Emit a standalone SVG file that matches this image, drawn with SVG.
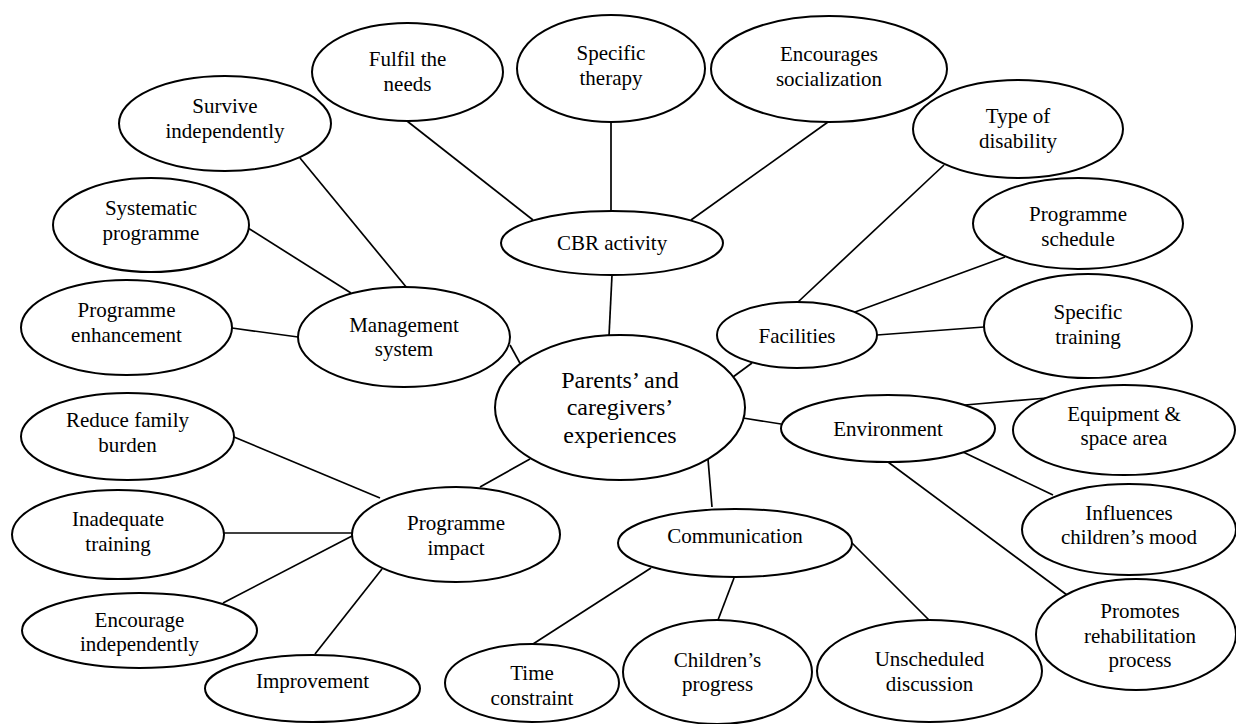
<svg xmlns="http://www.w3.org/2000/svg" width="1236" height="724" viewBox="0 0 1236 724">
<style>
.n ellipse{fill:#fff;stroke:#000;stroke-width:2}
.n text{font-family:"Liberation Serif","Times New Roman",serif;font-size:21px;fill:#000;text-anchor:middle}
#central text{font-size:24px}
#connectors line{stroke:#000;stroke-width:1.7}
</style>
<rect width="1236" height="724" fill="#fff"/>
<g id="connectors">
<line x1="407" y1="121" x2="533" y2="220"/>
<line x1="611" y1="122" x2="611" y2="211"/>
<line x1="828" y1="122" x2="691" y2="220"/>
<line x1="612" y1="275" x2="609" y2="336"/>
<line x1="300" y1="158" x2="407" y2="288"/>
<line x1="248" y1="228" x2="351" y2="293"/>
<line x1="232" y1="328" x2="298" y2="337"/>
<line x1="510" y1="345" x2="521" y2="365"/>
<line x1="944" y1="165" x2="798" y2="302"/>
<line x1="855" y1="312" x2="1005" y2="257"/>
<line x1="877" y1="335" x2="984" y2="327"/>
<line x1="752" y1="363" x2="733" y2="377"/>
<line x1="743" y1="418" x2="781" y2="424"/>
<line x1="965" y1="405" x2="1047" y2="398"/>
<line x1="963" y1="452" x2="1053" y2="495"/>
<line x1="888" y1="462" x2="1067" y2="595"/>
<line x1="530" y1="459" x2="480" y2="487"/>
<line x1="234" y1="437" x2="380" y2="498"/>
<line x1="224" y1="533" x2="352" y2="533"/>
<line x1="223" y1="603" x2="352" y2="536"/>
<line x1="315" y1="654" x2="382" y2="569"/>
<line x1="708" y1="459" x2="712" y2="507"/>
<line x1="651" y1="568" x2="533" y2="644"/>
<line x1="734" y1="578" x2="718" y2="620"/>
<line x1="852" y1="543" x2="929" y2="620"/>
</g>
<g id="central" class="n"><ellipse cx="620" cy="407.5" rx="125" ry="72.5"/><text x="620" y="388">Parents’ and</text><text x="620" y="415">caregivers’</text><text x="620" y="443">experiences</text></g>
<g id="cbr" class="n"><ellipse cx="612" cy="243" rx="111" ry="32"/><text x="612" y="250">CBR activity</text></g>
<g id="fulfil" class="n"><ellipse cx="407.5" cy="72" rx="95.5" ry="49"/><text x="407.5" y="66">Fulfil the</text><text x="407.5" y="91">needs</text></g>
<g id="therapy" class="n"><ellipse cx="611" cy="68.5" rx="94" ry="53.5"/><text x="611" y="60">Specific</text><text x="611" y="85">therapy</text></g>
<g id="social" class="n"><ellipse cx="829" cy="69" rx="118" ry="53"/><text x="829" y="61">Encourages</text><text x="829" y="86">socialization</text></g>
<g id="survive" class="n"><ellipse cx="225" cy="123.5" rx="106" ry="47.5"/><text x="225" y="113">Survive</text><text x="225" y="138">independently</text></g>
<g id="systematic" class="n"><ellipse cx="151" cy="225" rx="98" ry="47"/><text x="151" y="215">Systematic</text><text x="151" y="240">programme</text></g>
<g id="enhancement" class="n"><ellipse cx="126.5" cy="327.5" rx="105.5" ry="47.5"/><text x="126.5" y="317">Programme</text><text x="126.5" y="342">enhancement</text></g>
<g id="management" class="n"><ellipse cx="404" cy="337" rx="106" ry="50"/><text x="404" y="332">Management</text><text x="404" y="356">system</text></g>
<g id="disability" class="n"><ellipse cx="1018" cy="129" rx="105" ry="49"/><text x="1018" y="123">Type of</text><text x="1018" y="148">disability</text></g>
<g id="schedule" class="n"><ellipse cx="1078" cy="223.5" rx="105" ry="45.5"/><text x="1078" y="221">Programme</text><text x="1078" y="246">schedule</text></g>
<g id="facilities" class="n"><ellipse cx="797" cy="335" rx="80" ry="33"/><text x="797" y="343">Facilities</text></g>
<g id="training" class="n"><ellipse cx="1088" cy="326" rx="104" ry="52"/><text x="1088" y="319">Specific</text><text x="1088" y="344">training</text></g>
<g id="environment" class="n"><ellipse cx="888" cy="428.5" rx="107" ry="33.5"/><text x="888" y="436">Environment</text></g>
<g id="equipment" class="n"><ellipse cx="1124" cy="430" rx="111" ry="45"/><text x="1124" y="421">Equipment &amp;</text><text x="1124" y="445">space area</text></g>
<g id="mood" class="n"><ellipse cx="1129" cy="529.5" rx="107" ry="45.5"/><text x="1129" y="520">Influences</text><text x="1129" y="544">children’s mood</text></g>
<g id="rehab" class="n"><ellipse cx="1136" cy="634.5" rx="100" ry="55.5"/><text x="1140" y="618">Promotes</text><text x="1140" y="643">rehabilitation</text><text x="1140" y="667">process</text></g>
<g id="impact" class="n"><ellipse cx="456" cy="534.5" rx="104" ry="47.5"/><text x="456" y="530">Programme</text><text x="456" y="555">impact</text></g>
<g id="burden" class="n"><ellipse cx="127.5" cy="436.5" rx="106.5" ry="43.5"/><text x="127.5" y="427">Reduce family</text><text x="127.5" y="452">burden</text></g>
<g id="inadequate" class="n"><ellipse cx="118" cy="534.5" rx="106" ry="44.5"/><text x="118" y="526">Inadequate</text><text x="118" y="551">training</text></g>
<g id="encourage" class="n"><ellipse cx="139.5" cy="630.5" rx="117.5" ry="37.5"/><text x="139.5" y="627">Encourage</text><text x="139.5" y="651">independently</text></g>
<g id="improvement" class="n"><ellipse cx="312.5" cy="688.5" rx="107.5" ry="33.5"/><text x="312.5" y="688">Improvement</text></g>
<g id="communication" class="n"><ellipse cx="735" cy="543" rx="117" ry="34"/><text x="735" y="543">Communication</text></g>
<g id="time" class="n"><ellipse cx="532" cy="683" rx="87" ry="39"/><text x="532" y="680">Time</text><text x="532" y="705">constraint</text></g>
<g id="progress" class="n"><ellipse cx="717.5" cy="672" rx="94.5" ry="52"/><text x="717.5" y="667">Children’s</text><text x="717.5" y="691">progress</text></g>
<g id="unscheduled" class="n"><ellipse cx="929.5" cy="671" rx="112.5" ry="51"/><text x="929.5" y="666">Unscheduled</text><text x="929.5" y="691">discussion</text></g>
</svg>
